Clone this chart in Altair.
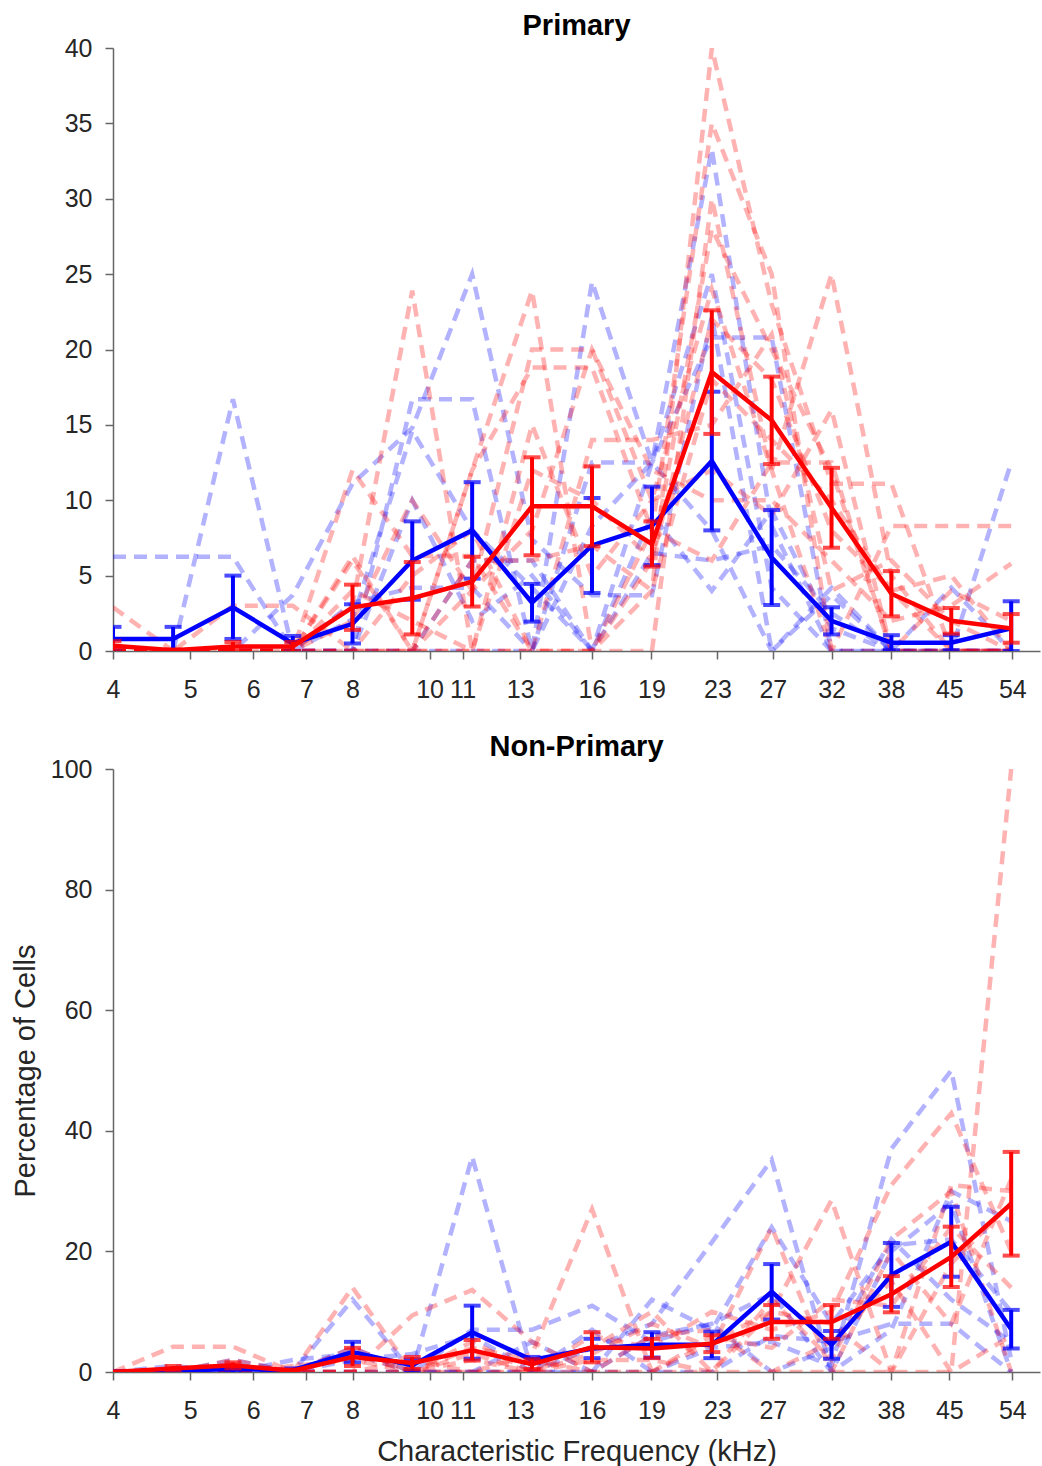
import altair as alt
import pandas as pd

# Quarter-octave characteristic-frequency bins (kHz)
FREQ = [4.0, 4.76, 5.66, 6.73, 8.0, 9.51, 11.31, 13.45, 16.0, 19.03,
        22.63, 26.91, 32.0, 38.05, 45.25, 53.82]
TICKS = [4, 5, 6, 7, 8, 10, 11, 13, 16, 19, 23, 27, 32, 38, 45, 54]

# ---------------- Primary: individual animals ----------------
P_BLUE_TRACES = [
    [6.25, 6.25, 6.25, 0.0, 2.1, 14.6, 8.0, 4.2, 0.0, 12.5, 8.0, 0.0, 4.2, 0.0, 0.0, 0.0],
    [0.0, 0.0, 16.7, 0.0, 0.0, 0.0, 0.0, 0.0, 8.3, 12.5, 33.3, 8.3, 0.0, 0.0, 0.0, 0.0],
    [0.0, 0.0, 0.0, 3.7, 11.1, 14.8, 25.0, 7.4, 3.7, 3.7, 22.2, 0.0, 3.7, 0.0, 0.0, 12.5],
    [0.0, 0.0, 0.0, 0.0, 0.0, 16.7, 16.7, 0.0, 24.5, 12.5, 25.0, 4.2, 0.0, 0.0, 0.0, 0.0],
    [0.0, 0.0, 0.0, 0.0, 3.2, 4.2, 4.2, 0.0, 12.5, 12.5, 20.8, 20.8, 0.0, 0.0, 4.2, 0.0],
    [0.0, 0.0, 0.0, 0.0, 0.0, 0.0, 6.0, 6.0, 0.0, 6.5, 6.0, 7.0, 2.5, 0.0, 0.0, 0.0],
    [0.0, 0.0, 0.0, 0.0, 0.0, 10.0, 2.0, 5.0, 0.0, 9.0, 4.0, 9.3, 1.5, 0.0, 0.0, 0.0],
]
P_RED_TRACES = [
    [2.9, 0.0, 0.0, 0.0, 0.0, 0.0, 0.0, 0.0, 0.0, 4.0, 40.0, 23.0, 11.1, 11.1, 0.0, 0.0],
    [0.0, 0.0, 0.0, 0.0, 12.0, 6.3, 6.3, 0.0, 0.0, 8.0, 35.0, 25.0, 0.0, 0.0, 0.0, 0.0],
    [0.0, 0.0, 0.0, 0.0, 3.1, 23.9, 0.0, 0.0, 0.0, 6.0, 28.0, 20.0, 12.0, 0.0, 0.0, 0.0],
    [0.0, 0.0, 3.0, 3.0, 0.0, 0.0, 12.0, 23.9, 0.0, 0.0, 30.0, 12.0, 25.0, 5.0, 0.0, 0.0],
    [0.0, 0.0, 0.0, 0.0, 0.0, 0.0, 4.0, 20.0, 20.0, 10.0, 24.0, 12.0, 0.0, 8.3, 8.3, 8.3],
    [0.0, 0.0, 0.0, 0.0, 6.3, 0.0, 12.0, 18.8, 18.8, 8.0, 6.0, 12.5, 12.5, 0.0, 0.0, 0.0],
    [0.0, 0.0, 0.0, 0.0, 2.0, 10.0, 4.0, 8.0, 20.0, 12.0, 10.0, 10.0, 6.0, 2.0, 3.0, 5.8],
    [0.0, 0.0, 0.0, 0.0, 4.0, 2.0, 0.0, 12.0, 10.0, 6.0, 22.0, 18.0, 8.0, 4.0, 5.0, 0.0],
    [0.0, 0.0, 0.0, 0.0, 0.0, 5.0, 8.0, 0.0, 14.0, 14.0, 15.0, 21.0, 4.0, 6.0, 2.0, 0.0],
    [0.0, 0.0, 0.0, 0.0, 6.0, 0.0, 0.0, 15.0, 5.0, 10.0, 12.0, 9.0, 16.0, 0.0, 4.0, 2.0],
    [0.0, 0.0, 0.0, 0.0, 0.0, 0.0, 6.0, 6.0, 7.0, 4.0, 18.0, 14.0, 10.0, 4.0, 0.0, 0.0],
]
P_BLUE_MEAN = [0.8, 0.8, 2.9, 0.5, 1.8, 6.0, 8.0, 3.2, 7.0, 8.3, 12.6, 6.2, 2.0, 0.55, 0.55, 1.5]
P_BLUE_ERR = [0.8, 0.8, 2.1, 0.5, 1.3, 2.6, 3.2, 1.25, 3.15, 2.6, 4.6, 3.15, 0.9, 0.5, 0.5, 1.8]
P_RED_MEAN = [0.35, 0.05, 0.3, 0.3, 2.9, 3.5, 4.6, 9.6, 9.6, 7.1, 18.5, 15.3, 9.5, 3.8, 2.0, 1.5]
P_RED_ERR = [0.3, 0.05, 0.3, 0.3, 1.5, 2.4, 1.65, 3.25, 2.65, 1.5, 4.1, 2.9, 2.65, 1.5, 0.85, 0.95]

# ---------------- Non-Primary: individual animals ----------------
NP_BLUE_TRACES = [
    [0.0, 0.0, 0.0, 0.0, 12.0, 0.0, 0.0, 0.0, 4.0, 8.0, 21.5, 35.2, 0.0, 20.0, 28.0, 0.0],
    [0.0, 0.0, 0.0, 0.0, 0.0, 0.0, 35.7, 0.0, 0.0, 0.0, 4.0, 5.0, 1.0, 37.0, 50.0, 2.0],
    [0.0, 0.0, 2.0, 0.0, 4.0, 0.0, 7.0, 7.0, 11.0, 5.0, 8.0, 13.0, 0.0, 7.0, 30.0, 25.0],
    [0.0, 0.0, 0.0, 2.0, 3.0, 0.0, 0.0, 0.0, 0.0, 12.0, 7.0, 24.0, 8.0, 21.0, 22.0, 10.0],
    [0.0, 1.0, 0.0, 0.0, 2.0, 3.0, 6.0, 0.0, 7.0, 0.0, 0.0, 6.0, 5.0, 8.0, 8.0, 0.0],
    [0.0, 0.0, 1.0, 0.0, 0.0, 0.0, 0.0, 5.0, 0.0, 6.0, 8.0, 0.0, 4.0, 22.0, 12.0, 5.0],
]
NP_RED_TRACES = [
    [0.0, 4.2, 4.2, 0.0, 14.0, 0.0, 0.0, 3.0, 27.0, 0.0, 0.0, 0.0, 0.0, 0.0, 0.0, 100.0],
    [0.0, 0.0, 0.0, 0.0, 0.0, 9.4, 13.6, 5.0, 0.0, 0.0, 5.0, 10.0, 28.5, 0.0, 31.0, 30.0],
    [0.0, 0.0, 2.0, 0.0, 4.0, 0.0, 3.0, 0.0, 6.0, 4.0, 10.0, 7.0, 10.0, 31.0, 42.9, 20.0],
    [0.0, 0.0, 0.0, 0.0, 0.0, 2.0, 0.0, 0.0, 3.0, 8.0, 4.0, 24.0, 0.0, 20.0, 8.0, 32.0],
    [0.0, 0.0, 0.0, 1.0, 2.0, 0.0, 4.0, 2.0, 0.0, 0.0, 6.0, 4.0, 12.0, 11.0, 24.0, 14.0],
    [0.0, 0.0, 0.0, 0.0, 0.0, 0.0, 0.0, 0.0, 2.0, 2.0, 0.0, 10.0, 8.0, 0.0, 18.0, 28.0],
    [0.0, 0.0, 0.0, 0.0, 0.0, 0.0, 5.0, 0.0, 0.0, 6.0, 7.0, 0.0, 5.0, 15.0, 0.0, 6.0],
    [0.0, 0.0, 0.0, 0.0, 3.0, 0.0, 2.0, 0.0, 4.0, 10.0, 0.0, 12.0, 2.0, 22.0, 30.0, 0.0],
]
NP_BLUE_MEAN = [0.0, 0.2, 0.5, 0.3, 3.3, 1.1, 6.6, 2.0, 3.9, 4.5, 4.5, 13.3, 4.5, 16.1, 21.6, 7.1]
NP_BLUE_ERR = [0.0, 0.2, 0.5, 0.3, 1.7, 1.0, 4.4, 0.5, 1.6, 2.1, 2.2, 4.6, 2.3, 5.3, 5.8, 3.2]
NP_RED_MEAN = [0.0, 0.6, 1.1, 0.2, 2.5, 1.5, 3.6, 1.3, 4.1, 3.9, 4.7, 8.3, 8.3, 12.9, 19.1, 27.9]
NP_RED_ERR = [0.0, 0.4, 0.5, 0.2, 1.5, 1.0, 1.7, 0.8, 2.5, 1.6, 1.4, 2.8, 2.8, 3.0, 5.0, 8.6]

BLUE = "#0000ff"
RED = "#ff0000"
FONT = "Liberation Sans"
PLOT_W = 927
PLOT_H = 603


def traces_df(traces, prefix):
    rows = []
    for i, tr in enumerate(traces):
        for f, v in zip(FREQ, tr):
            rows.append({"freq": f, "value": v, "trace": f"{prefix}{i}"})
    return pd.DataFrame(rows)


def mean_df(mean, err):
    return pd.DataFrame({
        "freq": FREQ,
        "value": mean,
        "lo": [max(0.0, m - e) for m, e in zip(mean, err)],
        "hi": [m + e for m, e in zip(mean, err)],
    })


def panel(title, btr, rtr, bm, be, rm, re_, ymax, ystep, bottom):
    xtitle = "Characteristic Frequency (kHz)" if bottom else None
    ytitle = "Percentage of Cells" if bottom else None
    X = alt.X("freq:Q",
              scale=alt.Scale(type="log", domain=[4, 58.5], nice=False),
              axis=alt.Axis(values=TICKS, format="d", title=xtitle,
                            labelOverlap=False, labelFlush=False))
    yscale = alt.Scale(domain=[0, ymax], nice=False)
    yaxis = alt.Axis(values=list(range(0, ymax + 1, ystep)), title=ytitle)

    def Y(field):
        return alt.Y(f"{field}:Q", scale=yscale, axis=yaxis)

    layers = []
    for df_t, col in ((traces_df(btr, "b"), BLUE), (traces_df(rtr, "r"), RED)):
        layers.append(
            alt.Chart(df_t).mark_line(color=col, opacity=0.3, strokeWidth=4.5,
                                      strokeDash=[13, 8], clip=True)
            .encode(x=X, y=Y("value"), detail="trace:N")
        )
    for m, e, col in ((bm, be, BLUE), (rm, re_, RED)):
        d = mean_df(m, e)
        base = alt.Chart(d)
        layers.append(base.mark_line(color=col, strokeWidth=4.5, clip=True)
                      .encode(x=X, y=Y("value")))
        layers.append(base.mark_rule(color=col, strokeWidth=4, clip=True)
                      .encode(x=X, y=Y("lo"), y2="hi:Q"))
        layers.append(base.mark_tick(color=col, orient="horizontal", size=17,
                                     thickness=4, clip=True)
                      .encode(x=X, y=Y("lo")))
        layers.append(base.mark_tick(color=col, orient="horizontal", size=17,
                                     thickness=4, clip=True)
                      .encode(x=X, y=Y("hi")))
    return alt.layer(*layers).properties(
        width=PLOT_W, height=PLOT_H,
        title=alt.TitleParams(title, font=FONT, fontSize=29, fontWeight="bold",
                              color="black", anchor="middle", offset=-5),
    )


top = panel("Primary", P_BLUE_TRACES, P_RED_TRACES, P_BLUE_MEAN, P_BLUE_ERR,
            P_RED_MEAN, P_RED_ERR, 40, 5, False)
bot = panel("Non-Primary", NP_BLUE_TRACES, NP_RED_TRACES, NP_BLUE_MEAN, NP_BLUE_ERR,
            NP_RED_MEAN, NP_RED_ERR, 100, 20, True)

chart = (
    alt.vconcat(top, bot, spacing=31)
    .properties(padding={"left": 11, "top": 12, "right": 2, "bottom": 5},
                background="white")
    .configure_view(strokeWidth=0)
    .configure_axis(
        grid=False,
        domainColor="#666666", domainWidth=1.5,
        tickColor="#666666", tickWidth=1.5, tickSize=8,
        labelFont=FONT, labelFontSize=25, labelColor="#262626",
        titleFont=FONT, titleFontSize=29, titleFontWeight="normal",
        titleColor="#262626",
    )
    .configure_axisX(labelPadding=18, titlePadding=14)
    .configure_axisY(labelPadding=13, titlePadding=10)
)

chart.save("out.html", embed_options={"renderer": "svg", "actions": False})
